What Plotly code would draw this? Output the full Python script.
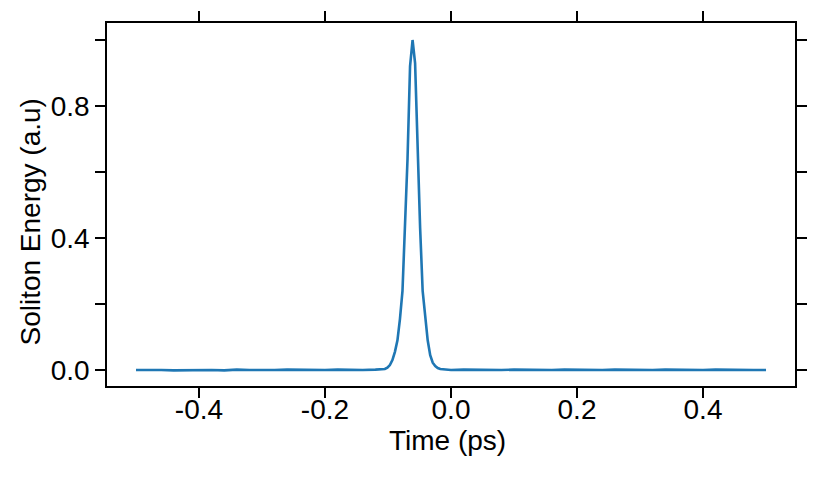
import plotly.graph_objects as go

# Time (ps) samples
time_left_flat = [-0.500, -0.480, -0.460, -0.440, -0.420, -0.400, -0.380, -0.360, -0.340, -0.320,
                  -0.300, -0.280, -0.260, -0.240, -0.220, -0.200, -0.180, -0.160, -0.140, -0.120, -0.110]
energy_left_flat = [0.000, 0.001, 0.000, -0.001, 0.000, 0.001, 0.000, -0.001, 0.001, 0.000,
                    -0.001, 0.000, 0.001, 0.000, -0.001, 0.000, 0.001, 0.000, 0.000, 0.001, 0.001]

time_pulse = [-0.105, -0.101, -0.097, -0.093, -0.089, -0.085, -0.081, -0.077, -0.073, -0.069, -0.065,
              -0.061,
              -0.057, -0.053, -0.049, -0.045, -0.041, -0.037, -0.033, -0.029, -0.025, -0.021, -0.017]
energy_pulse = [0.003, 0.007, 0.015, 0.030, 0.055, 0.090, 0.155, 0.240, 0.420, 0.640, 0.920,
                1.000,
                0.930, 0.660, 0.430, 0.240, 0.160, 0.090, 0.045, 0.022, 0.012, 0.006, 0.003]

time_right_flat = [-0.010, 0.000, 0.020, 0.040, 0.060, 0.080, 0.100, 0.120, 0.140, 0.160, 0.180,
                   0.200, 0.220, 0.240, 0.260, 0.280, 0.300, 0.320, 0.340, 0.360, 0.380,
                   0.400, 0.420, 0.440, 0.460, 0.480, 0.500]
energy_right_flat = [0.001, 0.000, 0.001, 0.000, -0.001, 0.000, 0.001, 0.000, -0.001, 0.000, 0.001,
                     0.000, -0.001, 0.000, 0.001, 0.000, -0.001, 0.000, 0.001, 0.000, -0.001,
                     0.000, 0.001, 0.000, -0.001, 0.000, 0.000]

time_ps = time_left_flat + time_pulse + time_right_flat
energy = energy_left_flat + energy_pulse + energy_right_flat

x_ticks = [-0.4, -0.2, 0.0, 0.2, 0.4]
x_tick_labels = ["-0.4", "-0.2", "0.0", "0.2", "0.4"]
y_ticks = [0.0, 0.4, 0.8]
y_tick_labels = ["0.0", "0.4", "0.8"]
y_minor_ticks = [0.2, 0.6, 1.0]
x_title = "Time (ps)"
y_title = "Soliton Energy (a.u)"

FONT = "Liberation Sans, Arial, Helvetica, sans-serif"
FS = 28

fig = go.Figure()
fig.add_trace(go.Scatter(x=time_ps, y=energy, mode="lines",
                         line=dict(color="#1f77b4", width=2.6), showlegend=False))

axis_common = dict(
    showline=True, linecolor="black", linewidth=1.6, mirror="allticks",
    ticks="outside", ticklen=10, tickwidth=1.6, tickcolor="black",
    showgrid=False, zeroline=False, automargin=False,
    tickfont=dict(family=FONT, size=FS, color="black"),
)

fig.update_xaxes(
    range=[-0.546, 0.546], tickvals=x_ticks, ticktext=x_tick_labels,
    ticklabelstandoff=-12,
    **axis_common,
)
fig.update_yaxes(
    range=[-0.0485, 1.0515], tickvals=y_ticks, ticktext=y_tick_labels,
    minor=dict(tickvals=y_minor_ticks, ticks="outside", ticklen=10, tickwidth=1.6, tickcolor="black"),
    **axis_common,
)

fig.add_annotation(text=x_title, xref="paper", yref="paper", x=0.495, y=-0.1515,
                   xanchor="center", yanchor="middle", showarrow=False,
                   font=dict(family=FONT, size=FS, color="black"))
fig.add_annotation(text=y_title, xref="paper", yref="paper", x=-0.1119, y=0.4504,
                   xanchor="center", yanchor="middle", textangle=-90, showarrow=False,
                   font=dict(family=FONT, size=FS, color="black"))

# page body has an 8px margin: shift margins so the plot area lands where the reference has it
fig.update_layout(
    width=832, height=482,
    margin=dict(l=99, r=45, t=15, b=104),
    plot_bgcolor="white", paper_bgcolor="white",
    font=dict(family=FONT, color="black"),
)

fig.write_html("out.html")
